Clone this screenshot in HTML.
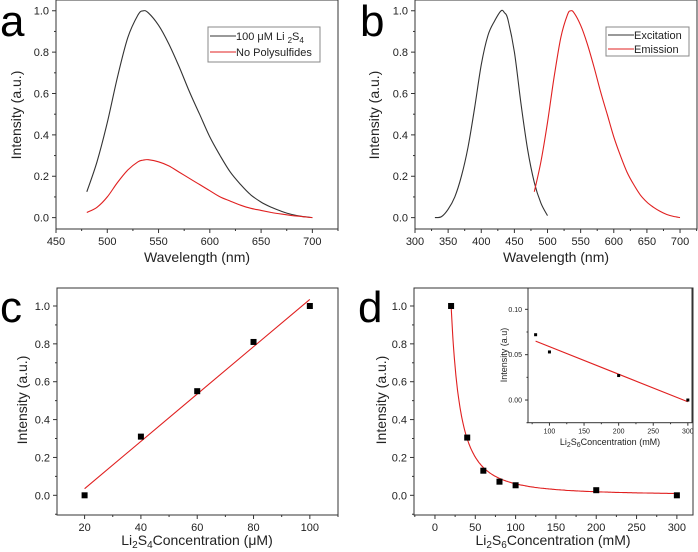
<!DOCTYPE html>
<html><head><meta charset="utf-8">
<style>
html,body{margin:0;padding:0;background:#fff;}
svg{display:block;font-family:"Liberation Sans",Arial,sans-serif;}
</style></head>
<body>
<svg id="fig" width="698" height="552" viewBox="0 0 698 552" xmlns="http://www.w3.org/2000/svg"></svg>
<script>
// ---- Data ----
const waveA = [480,490,500,510,520,530,535,540,550,560,570,580,590,600,610,620,630,640,650,660,670,680,690,700];
const li2s4Curve = [0.125,0.27,0.46,0.68,0.87,0.98,1.0,0.99,0.93,0.84,0.73,0.61,0.5,0.39,0.3,0.22,0.16,0.11,0.075,0.05,0.03,0.015,0.006,0];
const noPolyCurve = [0.025,0.05,0.1,0.17,0.23,0.27,0.278,0.28,0.27,0.25,0.22,0.19,0.16,0.13,0.1,0.08,0.06,0.045,0.035,0.025,0.017,0.01,0.005,0];
const waveExc = [330,340,350,360,370,380,390,400,410,420,430,435,440,450,460,470,480,490,500];
const excitation = [0,0.005,0.04,0.1,0.2,0.34,0.53,0.74,0.88,0.95,1.0,0.99,0.96,0.8,0.55,0.33,0.17,0.07,0.01];
const emission = li2s4Curve;
const concC = [20,40,60,80,100];
const intensC = [0,0.31,0.55,0.81,1.0];
const fitC = [0.035,1.035]; // value at x=20 and x=100
const concD = [20,40,60,80,100,200,300];
const intensD = [1.0,0.305,0.13,0.072,0.053,0.027,0];
const fitD = [189,1.75,0.001]; // a, b, c for y = a*x^-b + c
const concInset = [80,100,200,300];
const intensInset = [0.072,0.053,0.027,0];
const fitInset = [[80,0.065],[300,-0.002]];
const ticksA = [450,500,550,600,650,700];
const ticksB = [300,350,400,450,500,550,600,650,700];
const ticksC = [20,40,60,80,100];
const ticksD = [0,50,100,150,200,250,300];
const ticksY = [0,0.2,0.4,0.6,0.8,1.0];
const ticksInsetX = [100,150,200,250,300];
const ticksInsetY = [0,0.05,0.10];

const NS="http://www.w3.org/2000/svg";
const svg=document.getElementById('fig');
function mk(tag,attrs,parent,text){const e=document.createElementNS(NS,tag);for(const k in attrs)e.setAttribute(k,attrs[k]);if(text!==undefined)e.textContent=text;(parent||svg).appendChild(e);return e;}

function panel(name,box,xr,yr,xt,yt,opt){
  const g=mk('g',{});
  
  
  const sx=v=>box.x0+(v-xr[0])/(xr[1]-xr[0])*(box.x1-box.x0);
  const sy=v=>box.y1-(v-yr[0])/(yr[1]-yr[0])*(box.y1-box.y0);
  const fr=mk('rect',{x:box.x0,y:box.y0,width:box.x1-box.x0,height:box.y1-box.y0,fill:opt.bg||'none',stroke:'#333','stroke-width':1},g);
  
  
  const fs=opt.fs||11, tl=opt.tl||4;
  const dx=xt[1]-xt[0];
  for(let i=0;i<xt.length;i++){
    const v=xt[i],x=sx(v);
    mk('line',{x1:x,x2:x,y1:box.y1,y2:box.y1+tl,stroke:'#333'},g);
    const t=mk('text',{x:x,y:box.y1+tl+fs+1,'font-size':fs,'text-anchor':'middle',fill:'#222'},g,opt.xf?opt.xf(v):v);
    
    
  }
  for(let v=xt[0]-dx/2;v<=xr[1];v+=dx){if(v<xr[0])continue;const x=sx(v);mk('line',{x1:x,x2:x,y1:box.y1,y2:box.y1+tl/2,stroke:'#333'},g);}
  const dy=yt[1]-yt[0];
  for(let i=0;i<yt.length;i++){
    const v=yt[i],y=sy(v);
    mk('line',{x1:box.x0-tl,x2:box.x0,y1:y,y2:y,stroke:'#333'},g);
    const t=mk('text',{x:box.x0-tl-3,y:y+fs*0.36,'font-size':fs,'text-anchor':'end',fill:'#222'},g,opt.yf(v));
    
    
  }
  for(let v=yt[0]-dy/2;v<=yr[1];v+=dy){if(v<yr[0])continue;const y=sy(v);mk('line',{x1:box.x0-tl/2,x2:box.x0,y1:y,y2:y,stroke:'#333'},g);}
  return {g,sx,sy};
}
function line(p,xs,ys,color,name){
  const P=xs.map((x,i)=>[p.sx(x),p.sy(ys[i])]);
  let d='M'+P[0][0].toFixed(1)+','+P[0][1].toFixed(1);
  for(let i=0;i<P.length-1;i++){
    const p0=P[Math.max(i-1,0)],p1=P[i],p2=P[i+1],p3=P[Math.min(i+2,P.length-1)];
    const c1=[p1[0]+(p2[0]-p0[0])/6,p1[1]+(p2[1]-p0[1])/6];
    const c2=[p2[0]-(p3[0]-p1[0])/6,p2[1]-(p3[1]-p1[1])/6];
    d+='C'+c1.map(v=>v.toFixed(1)).join(',')+' '+c2.map(v=>v.toFixed(1)).join(',')+' '+p2.map(v=>v.toFixed(1)).join(',');
  }
  const e=mk('path',{d:d,fill:'none',stroke:color,'stroke-width':1.1},p.g);
  
  
}
function pts(p,xs,ys,s,name){
  xs.forEach((x,i)=>{const r=mk('rect',{x:p.sx(x)-s/2,y:p.sy(ys[i])-s/2,width:s,height:s,fill:'#000'},p.g);
    
    });
}
function title(txt,x,y,rot,fs,name,html){
  const t=mk('text',{x:x,y:y,'font-size':fs,'text-anchor':'middle',fill:'#222',transform:rot?`rotate(-90 ${x} ${y})`:''});
  if(html){t.innerHTML=html;}else t.textContent=txt;
  
  
}
function letter(ch,x,y){const t=mk('text',{x:x,y:y,'font-size':44,fill:'#000'},svg,ch);
  
  }
const f1=v=>v.toFixed(1), f2=v=>v.toFixed(2);

// Panel a
const pa=panel('panel-a',{x0:56,x1:338,y0:0,y1:229},[450,725],[-0.055,1.052],ticksA,ticksY,{yf:f1});
line(pa,waveA,li2s4Curve,'#333','series-li2s4');
line(pa,waveA,noPolyCurve,'#e02020','series-no-polysulfides');
const la=mk('g',{},pa.g);
mk('rect',{x:208,y:27,width:112,height:35,fill:'#fff',stroke:'#888'},la);
mk('line',{x1:210,x2:236,y1:36,y2:36,stroke:'#333'},la);
mk('line',{x1:210,x2:236,y1:52,y2:52,stroke:'#e02020'},la);
mk('text',{x:236,y:40,'font-size':11,fill:'#222'},la).innerHTML='100 μM Li <tspan font-size="8" dy="3">2</tspan><tspan dy="-3">S</tspan><tspan font-size="8" dy="3">4</tspan>';
mk('text',{x:236,y:56,'font-size':11,fill:'#222'},la,'No Polysulfides');
title('Intensity (a.u.)',21,115,true,14,'y-axis-title-a');
title('Wavelength (nm)',197,262,false,14,'x-axis-title-a');
letter('a',0,36);

// Panel b
const pb=panel('panel-b',{x0:415,x1:697,y0:0,y1:229},[300,725.6],[-0.055,1.052],ticksB,ticksY,{yf:f1});
line(pb,waveExc,excitation,'#333','series-excitation');
line(pb,waveA,emission,'#e02020','series-emission');
const lb=mk('g',{},pb.g);
mk('rect',{x:606,y:27,width:83,height:29,fill:'#fff',stroke:'#888'},lb);
mk('line',{x1:608,x2:634,y1:35,y2:35,stroke:'#333'},lb);
mk('line',{x1:608,x2:634,y1:49,y2:49,stroke:'#e02020'},lb);
mk('text',{x:634,y:39,'font-size':11,fill:'#222'},lb,'Excitation');
mk('text',{x:634,y:53,'font-size':11,fill:'#222'},lb,'Emission');
title('Intensity (a.u.)',379,115,true,14,'y-axis-title-b');
title('Wavelength (nm)',556,262,false,14,'x-axis-title-b');
letter('b',360,36);

// Panel c
const pc=panel('panel-c',{x0:57,x1:338,y0:288,y1:515},[10.2,110],[-0.104,1.095],ticksC,ticksY,{yf:f1});
line(pc,[20,100],fitC,'#e02020','fit-line-c');
pts(pc,concC,intensC,6,'data-point-c');
title('Intensity (a.u.)',27,400,true,14,'y-axis-title-c');
title('',197,545,false,14,'x-axis-title-c','Li<tspan font-size="10" dy="3">2</tspan><tspan dy="-3">S</tspan><tspan font-size="10" dy="3">4</tspan><tspan dy="-3">Concentration (μM)</tspan>');
letter('c',0,322);

// Panel d
const pd=panel('panel-d',{x0:414,x1:693,y0:288,y1:515},[-26,320],[-0.104,1.095],ticksD,ticksY,{yf:f1});
const dx=[],dy=[];for(let x=20;x<=300;x+=2){dx.push(x);dy.push(fitD[0]*Math.pow(x,-fitD[1])+fitD[2]);}
line(pd,dx,dy,'#e02020','fit-curve-d');
pts(pd,concD,intensD,6,'data-point-d');
title('Intensity (a.u.)',386,400,true,14,'y-axis-title-d');
title('',553,545,false,14,'x-axis-title-d','Li<tspan font-size="10" dy="3">2</tspan><tspan dy="-3">S</tspan><tspan font-size="10" dy="3">6</tspan><tspan dy="-3">Concentration (mM)</tspan>');
letter('d',358,322);
// Inset
const pi=panel('inset-d',{x0:528,x1:692,y0:288,y1:422.7},[69,306],[-0.025,0.1235],ticksInsetX,ticksInsetY,{yf:f2,fs:7,tl:3,bg:'#fff'});
line(pi,fitInset.map(p=>p[0]),fitInset.map(p=>p[1]),'#e02020','fit-line-inset');
pts(pi,concInset,intensInset,3,'data-point-inset');
title('Intensity (a.u)',507,355,true,9,'y-axis-title-inset');
title('',610,445,false,9,'x-axis-title-inset','Li<tspan font-size="7" dy="2">2</tspan><tspan dy="-2">S</tspan><tspan font-size="7" dy="2">6</tspan><tspan dy="-2">Concentration (mM)</tspan>');
</script>
</body></html>
